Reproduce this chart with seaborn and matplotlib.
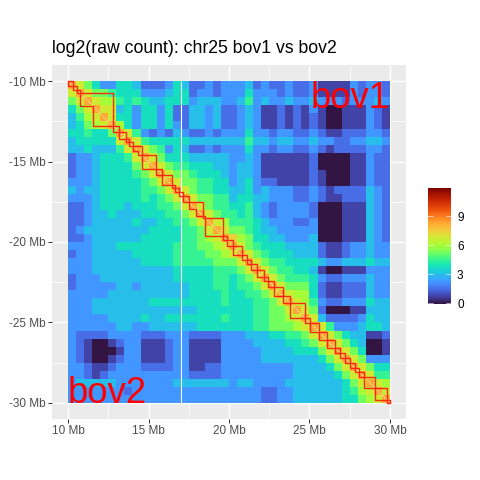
import numpy as np
import pandas as pd
import matplotlib
matplotlib.use("Agg")
import matplotlib.pyplot as plt
import seaborn as sns

# Contact map in 0.5 Mb bins, one hex digit per cell.
# Upper triangle is bov1, lower triangle is bov2. digit * 0.75 = log2(count)
rows = [
    "b975335542 2235422323 3342322322 3111132332",
    "9b97765553 3345523323 3353332322 3111132332",
    "79b9886565 4455534443 3463433433 4333233343",
    "579b994535 5352244342 2343112121 3100111321",
    "4689b95535 5352244342 2343112121 2100111321",
    "45789b8535 5353244342 2343112121 2100111321",
    "556557b963 2324322323 3353323322 3211222332",
    "4555559b96 5555544444 4464434433 4332233443",
    "44544469b9 7635422323 3353323322 3212222332",
    "233455569b 9755544444 3343111111 2000011322",
    "2334555579 b976655544 3443111111 2000011322",
    "2334555567 9b97765554 3443111111 2100011322",
    "3334555556 79b9776655 3453221111 2100011322",
    "4344555556 679b976655 4453433322 3212222432",
    "3334555556 5679b97766 4554433322 3211222432",
    "2234555455 56679b9766 5564323333 2000111432",
    "2234454445 556679b976 6564323333 2000111432",
    "2234444454 4556679b98 6665433322 3000111432",
    "2344444444 55556679b9 7765443333 3000111432",
    "2234444445 555566789b a875544333 4000111432",
    "3334445555 5556667789 b976555444 4211233433",
    "2334444455 5556666778 9b97655544 4211233433",
    "3334444445 5556666677 79b9766555 5433444544",
    "3334444444 4445555566 679b976655 4100111333",
    "2333444444 4445555566 5679b97666 5322333433",
    "2333334434 4444455566 56679b9777 5211222433",
    "3333344444 4444455556 556679b988 5211222433",
    "3334444444 5555555556 5556679b98 6322333544",
    "3334444444 4444445555 55566779b9 7200011444",
    "3333344445 4455555556 555667789b 9422223544",
    "3333334433 4444445555 5556677789 b963334554",
    "3222233332 2233322223 3344455667 9b97544112",
    "3210012331 1123311113 3334444556 79b9754001",
    "3210001331 1123311113 3333444455 579b975001",
    "3210012331 1123311113 3333444444 4579b97333",
    "3321123332 2223311223 3333333344 44579b9755",
    "3321233333 3333322223 3333333344 444579b966",
    "3444443333 3334444444 3443333444 4444579b98",
    "3333333233 3333333333 3333223344 44445689b9",
    "3333333333 3333333333 3333223344 444455789b",
]

# TAD boundaries in Mb, each TAD runs between two neighbouring values
bov1_bounds = [10.0, 10.29, 10.54, 10.77, 12.82, 13.19, 13.6, 13.77, 14.06, 14.6, 15.45,
               15.86, 16.44, 16.65, 16.92, 17.12, 17.52, 18.36, 18.51, 19.65, 19.86,
               20.22, 20.78, 21.14, 21.34, 21.72, 22.17, 22.44, 22.81, 23.37, 23.79,
               24.72, 25.03, 25.61, 26.1, 26.58, 26.9, 27.2, 27.5, 27.8, 28.05, 28.4,
               29.1, 29.79, 30.0]
bov2_bounds = [10.0, 10.29, 10.54, 10.77, 11.57, 12.82, 13.19, 13.6, 13.77, 14.06, 14.32,
               14.6, 15.45, 15.86, 16.44, 16.65, 16.92, 17.12, 17.52, 17.93, 18.36, 18.51,
               19.65, 19.86, 20.22, 20.78, 21.14, 21.34, 21.72, 22.17, 22.44, 22.81, 23.37,
               23.79, 24.72, 25.03, 25.61, 26.1, 26.58, 26.9, 27.2, 27.5, 27.8, 28.05, 28.4,
               29.1, 29.79, 30.0]
empty_column_mb = 17.02
mb_ticks = [10, 15, 20, 25, 30]
cbar_ticks = [0, 3, 6, 9]

sns.set_theme(style="darkgrid")
plt.rcParams["font.family"] = ["Liberation Sans", "DejaVu Sans"]

values = [[int(c, 16) * 0.75 for c in r.replace(" ", "")] for r in rows]
mat = pd.DataFrame(np.array(values))


def to_bin(mb):
    return (mb - 10) * 2


fig = plt.figure(figsize=(480 / 72, 480 / 72), dpi=72, facecolor="white")
ax = fig.add_axes([52 / 480, 61 / 480, 354 / 480, 354 / 480], facecolor="#EBEBEB")
cax = fig.add_axes([428 / 480, 176 / 480, 23 / 480, 116 / 480])

sns.heatmap(mat, ax=ax, cbar_ax=cax, cmap="turbo", vmin=-0.07, vmax=11.9,
            xticklabels=False, yticklabels=False,
            cbar_kws={"ticks": cbar_ticks})

# ggplot style panel around the map
ax.set_xlim(to_bin(9), to_bin(31))
ax.set_ylim(to_bin(31), to_bin(9))
ax.set_xticks([to_bin(m) for m in mb_ticks])
ax.set_yticks([to_bin(m) for m in mb_ticks])
ax.set_xticklabels([f"{m} Mb" for m in mb_ticks], color="#4D4D4D", fontsize=11.7)
ax.set_yticklabels([f"-{m} Mb" for m in mb_ticks], color="#4D4D4D", fontsize=11.7)
ax.set_xticks([to_bin(m + 2.5) for m in mb_ticks[:-1]], minor=True)
ax.set_yticks([to_bin(m + 2.5) for m in mb_ticks[:-1]], minor=True)
ax.grid(True, which="major", color="white", lw=1.4)
ax.grid(True, which="minor", color="white", lw=0.7)
ax.set_axisbelow(True)
ax.tick_params(which="major", length=3.6, width=1, color="#333333", pad=2.9,
               bottom=True, left=True, top=False, right=False)
ax.tick_params(which="minor", length=0)
ax.set_xlabel("")
ax.set_ylabel("")

# column with no data
ax.vlines(to_bin(empty_column_mb), 0, 40, color="white", lw=1.1)

# main diagonal
ax.plot([0, 40], [0, 40], color="white", lw=1, ls=(0, (1, 1.6)))

# TAD outlines: bov1 above the diagonal, bov2 below it
for s, e in zip(bov1_bounds[:-1], bov1_bounds[1:]):
    s, e = to_bin(s), to_bin(e)
    ax.plot([s, e, e], [s, s, e], color="#F52A10", lw=1.4)
for s, e in zip(bov2_bounds[:-1], bov2_bounds[1:]):
    s, e = to_bin(s), to_bin(e)
    ax.plot([s, s, e], [s, e, e], color="#F52A10", lw=1.4)

ax.text(40, 3.35, "bov1", color="red", fontsize=36.5, ha="right", va="baseline")
ax.text(0, 40, "bov2", color="red", fontsize=36.5, ha="left", va="baseline")

ax.set_title("log2(raw count): chr25 bov1 vs bov2", loc="left", fontsize=17.6,
             color="black", pad=12)

# colour bar with white inner ticks like guide_colourbar
cbar = ax.collections[0].colorbar
cbar.outline.set_visible(False)
cax.tick_params(length=0, labelsize=11.7, labelcolor="black", pad=6)
cax.grid(False)
for t in cbar_ticks:
    cax.plot([0, 0.2], [t, t], color="white", lw=0.6, transform=cax.get_yaxis_transform())
    cax.plot([0.8, 1], [t, t], color="white", lw=0.6, transform=cax.get_yaxis_transform())

fig.savefig("out.png", dpi=72)
